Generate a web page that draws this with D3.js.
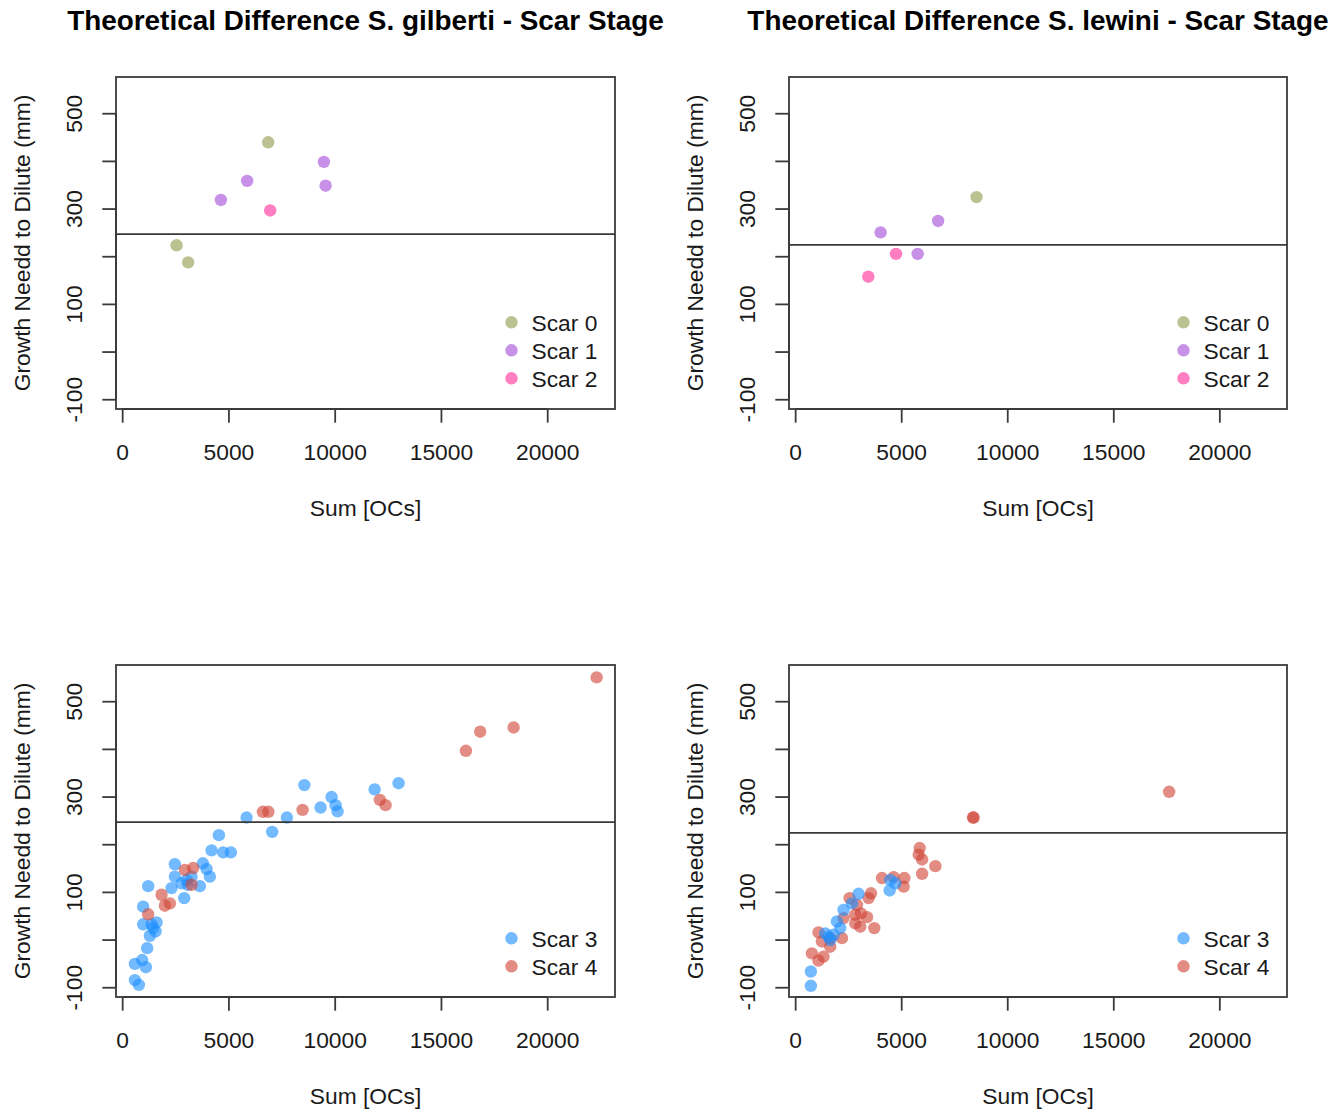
<!DOCTYPE html>
<html><head><meta charset="utf-8">
<script src="https://cdn.jsdelivr.net/npm/d3@7"></script>
<style>body{margin:0;background:#fff} svg{display:block}</style>
</head><body>
<svg id="chart" width="1342" height="1112"></svg>
<script>
// ---------- data ----------
const xTicks = [0, 5000, 10000, 15000, 20000];
const yTicks = [-100, 0, 100, 200, 300, 400, 500];
const yTickLabels = [-100, 100, 300, 500];
const xLabel = "Sum [OCs]";
const yLabel = "Growth Needd to Dilute (mm)";
const titleGilberti = "Theoretical Difference S. gilberti - Scar Stage";
const titleLewini = "Theoretical Difference S. lewini - Scar Stage";
const seriesNames = ["Scar 0", "Scar 1", "Scar 2", "Scar 3", "Scar 4"];
const seriesColors = ["#939b4e", "#a34ed9", "#ff2f9b", "#1e90ff", "#d14637"];
const thresholdGilberti = 246.5;
const thresholdLewini = 224;

// S. gilberti, early scar stages
const gilScar0 = [[6870, 439], [2560, 223], [3105, 187]];
const gilScar1 = [[9492, 398], [5882, 358], [4645, 318], [9572, 348]];
const gilScar2 = [[6965, 296]];
// S. lewini, early scar stages
const lewScar0 = [[8550, 324]];
const lewScar1 = [[4029, 250], [6741, 274], [5777, 205]];
const lewScar2 = [[4757, 205], [3448, 157]];
// S. gilberti, late scar stages
const gilScar3 = [[8574, 324], [9336, 277], [9854, 299], [10042, 282], [10136, 269], [11878, 315], [13007, 328],
  [5854, 256], [7751, 256], [7059, 226], [4551, 219], [4207, 187], [4753, 183], [5115, 183], [2480, 158],
  [3798, 160], [2480, 132], [3972, 148], [4127, 132], [3266, 132], [2795, 118], [3092, 115], [2325, 108],
  [3656, 112], [1224, 112], [2918, 87], [988, 69], [988, 32], [1384, 32], [1619, 36], [1459, 24], [1304, 8],
  [1572, 17], [1176, -18], [598, -51], [941, -43], [1115, -58], [598, -85], [786, -95], [3031, 125]];
const gilScar4 = [[8489, 272], [6621, 268], [6880, 268], [12127, 293], [12395, 282], [16174, 396], [16847, 436],
  [18419, 445], [22325, 550], [2951, 146], [3341, 150], [3266, 115], [1854, 94], [2245, 76], [2009, 71], [1224, 53]];
// S. lewini, late scar stages
const lewScar3 = [[741, -67], [741, -97], [1417, 13], [1573, 6], [1653, -1], [1810, 10], [1970, 38], [2126, 24],
  [2282, 62], [2678, 76], [2990, 96], [4487, 125], [4724, 118], [4455, 103]];
const lewScar4 = [[5872, 192], [5825, 178], [5985, 168], [6613, 154], [5985, 138], [4095, 129], [4643, 131],
  [5149, 129], [5116, 111], [3576, 97], [3463, 87], [2565, 87], [2914, 73], [2834, 52], [3103, 55], [3387, 47],
  [2834, 34], [3070, 27], [3732, 24], [1101, 15], [1653, 3], [2206, 3], [1261, -4], [1653, -15], [789, -29],
  [1337, -36], [1101, -44], [2282, 45], [8380, 256], [8420, 256], [17634, 310]];

// ---------- layout ----------
const xDomain = [-290, 23190];
const yDomain = [-120.5, 576];
const FONT = '"Liberation Sans", Arial, Helvetica, sans-serif';
const FS = 22.8;
const INK = "#1a1a1a";
const LINE = "#3a3a3a";

const panels = [
  { left: 116, top: 77, right: 615, bottom: 409, title: titleGilberti, hline: thresholdGilberti,
    legend: [0, 1, 2], draw: [[0, gilScar0], [1, gilScar1], [2, gilScar2]] },
  { left: 789, top: 77, right: 1287, bottom: 409, title: titleLewini, hline: thresholdLewini,
    legend: [0, 1, 2], draw: [[0, lewScar0], [1, lewScar1], [2, lewScar2]] },
  { left: 116, top: 665, right: 615, bottom: 997, title: null, hline: thresholdGilberti,
    legend: [3, 4], draw: [[3, gilScar3], [4, gilScar4]] },
  { left: 789, top: 665, right: 1287, bottom: 997, title: null, hline: thresholdLewini,
    legend: [3, 4], draw: [[4, lewScar4], [3, lewScar3]] }
];

const svg = d3.select("#chart");

panels.forEach(p => {
  const x = d3.scaleLinear().domain(xDomain).range([p.left, p.right]);
  const y = d3.scaleLinear().domain(yDomain).range([p.bottom, p.top]);
  const g = svg.append("g");
  const cx = (p.left + p.right) / 2, cy = (p.top + p.bottom) / 2;

  // points
  p.draw.forEach(([si, data]) => {
    g.append("g").selectAll("circle").data(data).join("circle")
      .attr("cx", d => x(d[0])).attr("cy", d => y(d[1])).attr("r", 6.2)
      .attr("fill", seriesColors[si]).attr("fill-opacity", 0.62);
  });

  // threshold line
  g.append("line").attr("x1", p.left).attr("x2", p.right)
    .attr("y1", y(p.hline)).attr("y2", y(p.hline))
    .attr("stroke", LINE).attr("stroke-width", 1.8);

  // box
  g.append("rect").attr("x", p.left).attr("y", p.top)
    .attr("width", p.right - p.left).attr("height", p.bottom - p.top)
    .attr("fill", "none").attr("stroke", LINE).attr("stroke-width", 1.8);

  // x axis
  const gx = g.append("g").attr("transform", `translate(0,${p.bottom})`)
    .call(d3.axisBottom(x).tickValues(xTicks).tickSize(13.7).tickPadding(21).tickFormat(d3.format("d")));
  gx.select(".domain").remove();
  gx.append("line").attr("x1", x(xTicks[0])).attr("x2", x(xTicks[xTicks.length - 1]))
    .attr("y1", 0).attr("y2", 0).attr("stroke", LINE).attr("stroke-width", 1.8);
  gx.selectAll(".tick line").attr("stroke", LINE).attr("stroke-width", 1.8);
  gx.selectAll(".tick text").attr("fill", INK).style("font-family", FONT).style("font-size", FS + "px");

  // y axis
  const gy = g.append("g").attr("transform", `translate(${p.left},0)`)
    .call(d3.axisLeft(y).tickValues(yTicks).tickSize(13.7)
      .tickFormat(d => yTickLabels.includes(d) ? String(d) : ""));
  gy.select(".domain").remove();
  gy.append("line").attr("x1", 0).attr("x2", 0)
    .attr("y1", y(yTicks[0])).attr("y2", y(yTicks[yTicks.length - 1]))
    .attr("stroke", LINE).attr("stroke-width", 1.8);
  gy.selectAll(".tick line").attr("stroke", LINE).attr("stroke-width", 1.8);
  gy.selectAll(".tick text").attr("x", null).attr("dy", null)
    .attr("transform", "translate(-34,0) rotate(-90)")
    .attr("text-anchor", "middle").attr("fill", INK)
    .style("font-family", FONT).style("font-size", FS + "px");

  // axis titles
  g.append("text").attr("x", cx).attr("y", p.bottom + 107).attr("text-anchor", "middle")
    .attr("fill", INK).style("font-family", FONT).style("font-size", FS + "px").text(xLabel);
  g.append("text").attr("transform", `translate(${p.left - 86},${cy}) rotate(-90)`)
    .attr("text-anchor", "middle").attr("fill", INK)
    .style("font-family", FONT).style("font-size", FS + "px").text(yLabel);

  // title
  if (p.title) {
    g.append("text").attr("x", cx).attr("y", p.top - 47.5).attr("text-anchor", "middle")
      .attr("fill", "#000").style("font-family", FONT).style("font-weight", "bold")
      .style("font-size", "27.9px").text(p.title);
  }

  // legend
  const n = p.legend.length;
  p.legend.forEach((si, i) => {
    const ly = p.bottom - 30.7 - (n - 1 - i) * 28;
    g.append("circle").attr("cx", p.right - 103.5).attr("cy", ly).attr("r", 6.2)
      .attr("fill", seriesColors[si]).attr("fill-opacity", 0.62);
    g.append("text").attr("x", p.right - 83.5).attr("y", ly + 8.2)
      .attr("fill", INK).style("font-family", FONT).style("font-size", FS + "px")
      .text(seriesNames[si]);
  });
});
</script>
</body></html>
